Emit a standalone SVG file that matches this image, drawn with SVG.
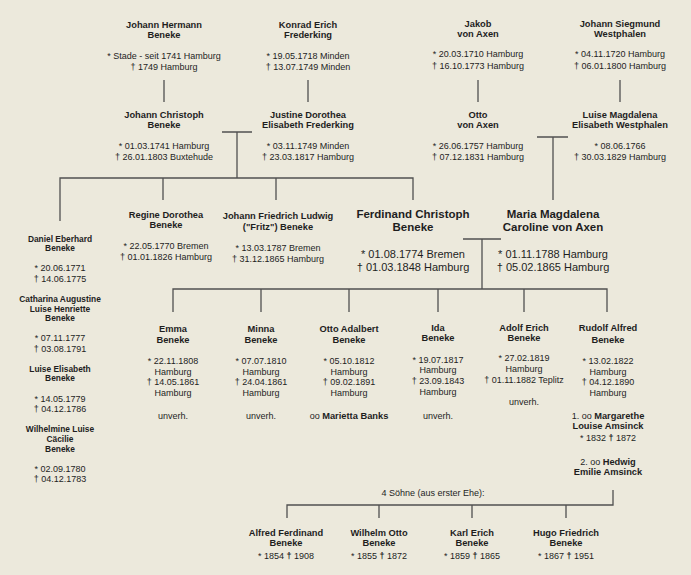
<svg xmlns="http://www.w3.org/2000/svg" width="691" height="575" viewBox="0 0 691 575">
<style>
text { font-family: "Liberation Sans", Arial, sans-serif; fill: #1e1e1e; text-anchor: middle; }
.n { font-size: 9.3px; font-weight: bold; }
.d { font-size: 9px; }
.s { font-size: 8.4px; font-weight: bold; }
.bn { font-size: 11.5px; font-weight: bold; }
.bd { font-size: 11px; }
.b { font-weight: bold; }
.c { fill: none; stroke: #505050; stroke-width: 1.3; }
</style>
<rect width="691" height="575" fill="#ECE9DC"/>
<g id="connectors" class="c">
<path d="M164 80V102M308 80V102M478 80V102M620 80V102"/>
<path d="M222 132H252M237 132V178"/>
<path d="M537 137H568M553 137V200"/>
<path d="M60 221V178H413V200M163 178V200M276 178V200"/>
<path d="M463 239H501M482 239V289"/>
<path d="M173 312V289H607V312M261 289V312M349 289V312M438 289V312M524 289V312"/>
<path d="M613 490V505H287V518M379 505V518M472 505V518M566 505V518"/>
</g>
<g id="johann-hermann">
<text class="n" x="164" y="28">Johann Hermann</text>
<text class="n" x="164" y="38">Beneke</text>
<text class="d" x="164" y="58.5">* Stade - seit 1741 Hamburg</text>
<text class="d" x="164" y="69.5">† 1749 Hamburg</text>
</g>
<g id="konrad-erich">
<text class="n" x="308" y="28">Konrad Erich</text>
<text class="n" x="308" y="38">Frederking</text>
<text class="d" x="308" y="58.5">* 19.05.1718 Minden</text>
<text class="d" x="308" y="69.5">† 13.07.1749 Minden</text>
</g>
<g id="jakob">
<text class="n" x="478" y="27">Jakob</text>
<text class="n" x="478" y="37">von Axen</text>
<text class="d" x="478" y="57">* 20.03.1710 Hamburg</text>
<text class="d" x="478" y="68.5">† 16.10.1773 Hamburg</text>
</g>
<g id="johann-siegmund">
<text class="n" x="620" y="27">Johann Siegmund</text>
<text class="n" x="620" y="37">Westphalen</text>
<text class="d" x="620" y="57">* 04.11.1720 Hamburg</text>
<text class="d" x="620" y="68.5">† 06.01.1800 Hamburg</text>
</g>
<g id="johann-christoph">
<text class="n" x="164" y="117.5">Johann Christoph</text>
<text class="n" x="164" y="128">Beneke</text>
<text class="d" x="164" y="149">* 01.03.1741 Hamburg</text>
<text class="d" x="164" y="159.5">† 26.01.1803 Buxtehude</text>
</g>
<g id="justine-dorothea">
<text class="n" x="308" y="117.5">Justine Dorothea</text>
<text class="n" x="308" y="128">Elisabeth Frederking</text>
<text class="d" x="308" y="149">* 03.11.1749 Minden</text>
<text class="d" x="308" y="159.5">† 23.03.1817 Hamburg</text>
</g>
<g id="otto">
<text class="n" x="478" y="117.5">Otto</text>
<text class="n" x="478" y="128">von Axen</text>
<text class="d" x="478" y="149">* 26.06.1757 Hamburg</text>
<text class="d" x="478" y="159.5">† 07.12.1831 Hamburg</text>
</g>
<g id="luise-magdalena">
<text class="n" x="620" y="117.5">Luise Magdalena</text>
<text class="n" x="620" y="128">Elisabeth Westphalen</text>
<text class="d" x="620" y="149">* 08.06.1766</text>
<text class="d" x="620" y="159.5">† 30.03.1829 Hamburg</text>
</g>
<g id="daniel-eberhard">
<text class="s" x="60" y="241.7">Daniel Eberhard</text>
<text class="s" x="60" y="251">Beneke</text>
<text class="d" x="60" y="271">* 20.06.1771</text>
<text class="d" x="60" y="281.6">† 14.06.1775</text>
</g>
<g id="catharina-augustine">
<text class="s" x="60" y="302">Catharina Augustine</text>
<text class="s" x="60" y="311.7">Luise Henriette</text>
<text class="s" x="60" y="321">Beneke</text>
<text class="d" x="60" y="341.3">* 07.11.1777</text>
<text class="d" x="60" y="352.3">† 03.08.1791</text>
</g>
<g id="luise-elisabeth">
<text class="s" x="60" y="371.7">Luise Elisabeth</text>
<text class="s" x="60" y="381.3">Beneke</text>
<text class="d" x="60" y="401.6">* 14.05.1779</text>
<text class="d" x="60" y="412">† 04.12.1786</text>
</g>
<g id="wilhelmine-luise">
<text class="s" x="60" y="432">Wilhelmine Luise</text>
<text class="s" x="60" y="442">Cäcilie</text>
<text class="s" x="60" y="451.7">Beneke</text>
<text class="d" x="60" y="471.6">* 02.09.1780</text>
<text class="d" x="60" y="482">† 04.12.1783</text>
</g>
<g id="regine-dorothea">
<text class="n" x="166" y="217.5">Regine Dorothea</text>
<text class="n" x="166" y="227.5">Beneke</text>
<text class="d" x="166" y="248.5">* 22.05.1770 Bremen</text>
<text class="d" x="166" y="259.5">† 01.01.1826 Hamburg</text>
</g>
<g id="johann-friedrich-ludwig">
<text class="n" x="278" y="218.5">Johann Friedrich Ludwig</text>
<text class="n" x="278" y="229.5">("Fritz") Beneke</text>
<text class="d" x="278" y="251">* 13.03.1787 Bremen</text>
<text class="d" x="278" y="262">† 31.12.1865 Hamburg</text>
</g>
<g id="ferdinand-christoph">
<text class="bn" x="413" y="218">Ferdinand Christoph</text>
<text class="bn" x="413" y="230.7">Beneke</text>
<text class="bd" x="413" y="258">* 01.08.1774 Bremen</text>
<text class="bd" x="413" y="270.7">† 01.03.1848 Hamburg</text>
</g>
<g id="maria-magdalena">
<text class="bn" x="553" y="218">Maria Magdalena</text>
<text class="bn" x="553" y="230.7">Caroline von Axen</text>
<text class="bd" x="553" y="258">* 01.11.1788 Hamburg</text>
<text class="bd" x="553" y="270.7">† 05.02.1865 Hamburg</text>
</g>
<g id="emma">
<text class="n" x="173" y="331.5">Emma</text>
<text class="n" x="173" y="342.5">Beneke</text>
<text class="d" x="173" y="364.3">* 22.11.1808</text>
<text class="d" x="173" y="374.5">Hamburg</text>
<text class="d" x="173" y="385.3">† 14.05.1861</text>
<text class="d" x="173" y="396">Hamburg</text>
<text class="d" x="173" y="418.5">unverh.</text>
</g>
<g id="minna">
<text class="n" x="261" y="331.5">Minna</text>
<text class="n" x="261" y="342.5">Beneke</text>
<text class="d" x="261" y="364.3">* 07.07.1810</text>
<text class="d" x="261" y="374.5">Hamburg</text>
<text class="d" x="261" y="385.3">† 24.04.1861</text>
<text class="d" x="261" y="396">Hamburg</text>
<text class="d" x="261" y="418.5">unverh.</text>
</g>
<g id="otto-adalbert">
<text class="n" x="349" y="331.5">Otto Adalbert</text>
<text class="n" x="349" y="342.5">Beneke</text>
<text class="d" x="349" y="364.3">* 05.10.1812</text>
<text class="d" x="349" y="374.5">Hamburg</text>
<text class="d" x="349" y="385.3">† 09.02.1891</text>
<text class="d" x="349" y="396">Hamburg</text>
<text class="d" x="349" y="418.5">oo <tspan class="b" font-size="9.3">Marietta Banks</tspan></text>
</g>
<g id="ida">
<text class="n" x="438" y="330.5">Ida</text>
<text class="n" x="438" y="341">Beneke</text>
<text class="d" x="438" y="362.5">* 19.07.1817</text>
<text class="d" x="438" y="373.3">Hamburg</text>
<text class="d" x="438" y="384">† 23.09.1843</text>
<text class="d" x="438" y="395">Hamburg</text>
<text class="d" x="438" y="418.5">unverh.</text>
</g>
<g id="adolf-erich">
<text class="n" x="524" y="330.5">Adolf Erich</text>
<text class="n" x="524" y="340.5">Beneke</text>
<text class="d" x="524" y="361.3">* 27.02.1819</text>
<text class="d" x="524" y="372.3">Hamburg</text>
<text class="d" x="524" y="383.3">† 01.11.1882 Teplitz</text>
<text class="d" x="524" y="405">unverh.</text>
</g>
<g id="rudolf-alfred">
<text class="n" x="608" y="331.3">Rudolf Alfred</text>
<text class="n" x="608" y="342.5">Beneke</text>
<text class="d" x="608" y="364">* 13.02.1822</text>
<text class="d" x="608" y="374.6">Hamburg</text>
<text class="d" x="608" y="385.3">† 04.12.1890</text>
<text class="d" x="608" y="396">Hamburg</text>
<text class="d" x="608" y="418.5">1. oo <tspan class="b" font-size="9.3">Margarethe</tspan></text>
<text class="n" x="608" y="429.2">Louise Amsinck</text>
<text class="d" x="608" y="441">* 1832 <tspan class="b">†</tspan> 1872</text>
<text class="d" x="608" y="464.5">2. oo <tspan class="b" font-size="9.3">Hedwig</tspan></text>
<text class="n" x="608" y="475.2">Emilie Amsinck</text>
</g>
<g id="soehne-label">
<text class="d" x="433" y="495.5">4 Söhne (aus erster Ehe):</text>
</g>
<g id="alfred-ferdinand">
<text class="n" x="286" y="535.5">Alfred Ferdinand</text>
<text class="n" x="286" y="546.3">Beneke</text>
<text class="d" x="286" y="558.5">* 1854 <tspan class="b">†</tspan> 1908</text>
</g>
<g id="wilhelm-otto">
<text class="n" x="379" y="535.5">Wilhelm Otto</text>
<text class="n" x="379" y="546.3">Beneke</text>
<text class="d" x="379" y="558.5">* 1855 <tspan class="b">†</tspan> 1872</text>
</g>
<g id="karl-erich">
<text class="n" x="472" y="535.5">Karl Erich</text>
<text class="n" x="472" y="546.3">Beneke</text>
<text class="d" x="472" y="558.5">* 1859 <tspan class="b">†</tspan> 1865</text>
</g>
<g id="hugo-friedrich">
<text class="n" x="566" y="535.5">Hugo Friedrich</text>
<text class="n" x="566" y="546.3">Beneke</text>
<text class="d" x="566" y="558.5">* 1867 <tspan class="b">†</tspan> 1951</text>
</g>
</svg>
